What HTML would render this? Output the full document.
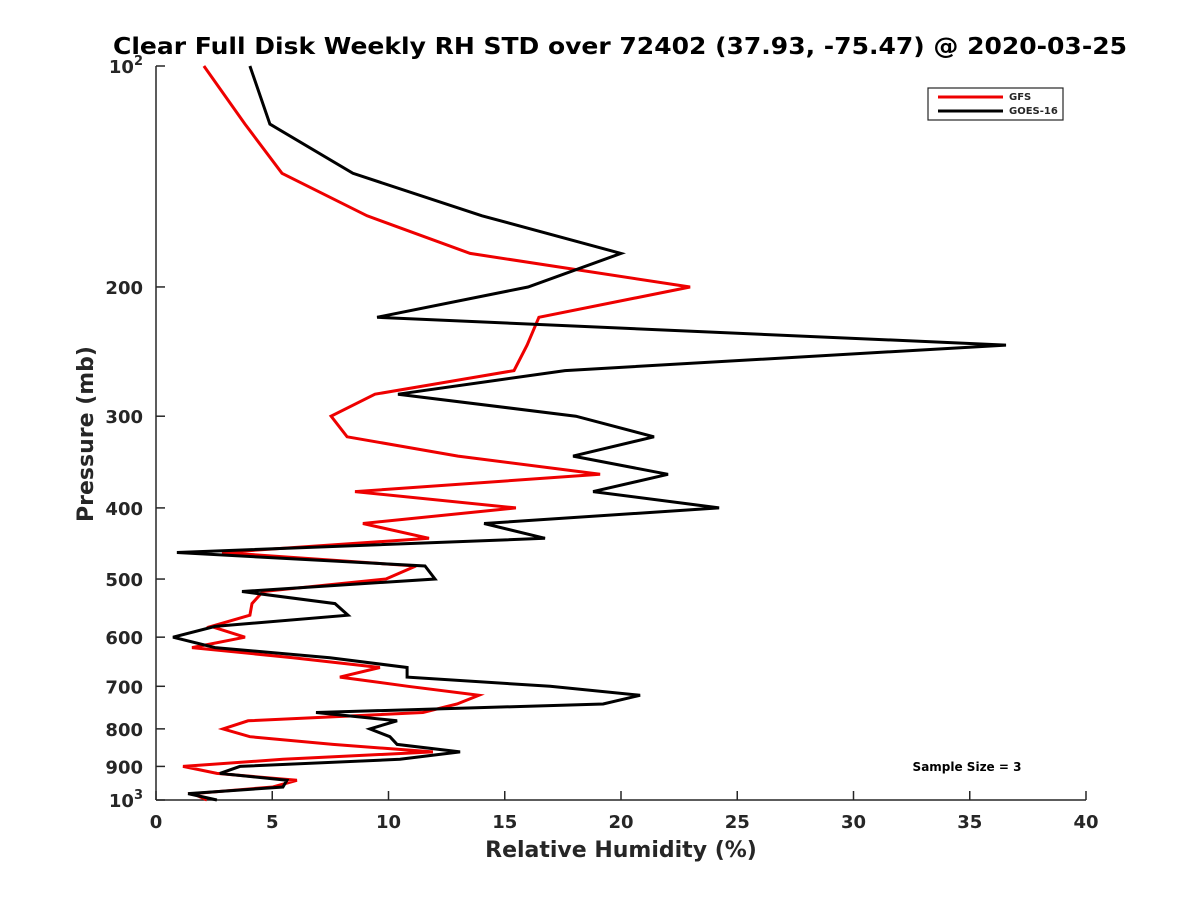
<!DOCTYPE html>
<html><head><meta charset="utf-8"><style>
body{margin:0;background:#fff;}
svg text{font-family:"DejaVu Sans","Liberation Sans",sans-serif;font-weight:bold;fill:#262626;}
</style></head><body>
<svg id="chart" width="1200" height="900" viewBox="0 0 1200 900" xmlns="http://www.w3.org/2000/svg">
<rect width="1200" height="900" fill="#fff"/>
<text x="620" y="54" text-anchor="middle" font-size="23" textLength="1014" lengthAdjust="spacingAndGlyphs" style="fill:#000">Clear Full Disk Weekly RH STD over 72402 (37.93, -75.47) @ 2020-03-25</text>
<g id="axes"></g>
<g id="series"></g>
<text x="621" y="857" text-anchor="middle" font-size="22">Relative Humidity (%)</text>
<text transform="translate(93,434) rotate(-90)" text-anchor="middle" font-size="22">Pressure (mb)</text>
<g>
<rect x="928" y="88" width="135" height="32" fill="#fff" stroke="#262626" stroke-width="1.2"/>
<line x1="938" y1="97" x2="1003" y2="97" stroke="#e00" stroke-width="3"/>
<text x="1009" y="100" font-size="10">GFS</text>
<line x1="938" y1="111" x2="1003" y2="111" stroke="#000" stroke-width="3"/>
<text x="1009" y="114" font-size="10">GOES-16</text>
</g>
<text x="967" y="771" text-anchor="middle" font-size="12" style="fill:#000">Sample Size = 3</text>
</svg>
<script>
const pressures=[100,120,140,160,180,200,220,240,260,280,300,320,340,360,380,400,420,440,460,480,500,520,540,560,580,600,620,640,660,680,700,720,740,760,780,800,820,840,860,880,900,920,940,960,980,1000];
const goesValues=[4.04,4.90,8.47,14.02,20.0,16.0,9.51,36.56,17.59,10.41,18.06,21.42,17.94,22.02,18.80,24.22,14.11,16.73,0.90,11.57,12.0,3.70,7.70,8.26,2.54,0.73,2.54,7.48,10.8,10.8,16.95,20.82,19.23,6.88,10.37,9.20,10.06,10.37,13.08,10.49,3.61,2.75,5.63,5.46,1.38,2.62];
const gfsValues=[2.06,3.83,5.42,9.08,13.51,22.97,16.47,15.96,15.40,9.42,7.53,8.22,12.99,19.10,8.56,15.48,8.90,11.74,2.84,11.18,9.89,4.60,4.13,4.04,2.37,3.83,1.55,5.89,9.63,7.91,10.84,13.89,12.95,11.48,3.96,2.88,4.04,7.61,11.91,5.46,1.16,2.62,6.06,5.03,1.59,2.19];
const xTicks=[0,5,10,15,20,25,30,35,40];
const yTicks=[100,200,300,400,500,600,700,800,900,1000];
const yTickLabels=["10|2","200","300","400","500","600","700","800","900","10|3"];
const NS="http://www.w3.org/2000/svg";
const L=156,R=1086,T=66,B=800;
const xS=v=>L+(v-0)/(40-0)*(R-L);
const yS=p=>T+Math.log10(p/100)/1*(B-T);
function mk(tag,attrs,parent){const e=document.createElementNS(NS,tag);for(const k in attrs)e.setAttribute(k,attrs[k]);parent.appendChild(e);return e;}
const ax=document.getElementById('axes');
let e=mk('line',{x1:L,y1:B,x2:R,y2:B,stroke:'#262626','stroke-width':1.5},ax);


e=mk('line',{x1:L,y1:T,x2:L,y2:B,stroke:'#262626','stroke-width':1.5},ax);


xTicks.forEach(v=>{
  const t=mk('line',{x1:xS(v),y1:B,x2:xS(v),y2:B-9,stroke:'#262626','stroke-width':1.5},ax);
  
  
  const l=mk('text',{x:xS(v),y:B+28,'text-anchor':'middle','font-size':18},ax);
  
  
  l.textContent=v;
});
yTicks.forEach((p,i)=>{
  const t=mk('line',{x1:L,y1:yS(p),x2:L+9,y2:yS(p),stroke:'#262626','stroke-width':1.5},ax);
  
  
  const lab=yTickLabels[i];
  const l=mk('text',{x:L-13,y:yS(p)+7,'text-anchor':'end','font-size':18},ax);
  
  
  if(lab.indexOf('|')>=0){
    const parts=lab.split('|');
    const a=mk('tspan',{},l);a.textContent=parts[0];
    const b=mk('tspan',{dy:-8,'font-size':13},l);b.textContent=parts[1];
  } else l.textContent=lab;
});
const sg=document.getElementById('series');
function line(vals,color,name){
  const pts=vals.map((v,i)=>xS(v).toFixed(1)+','+yS(pressures[i]).toFixed(1)).join(' ');
  const pl=mk('polyline',{points:pts,fill:'none',stroke:color,'stroke-width':3,'stroke-linejoin':'miter'},sg);
  
  
}
line(gfsValues,'#e00','gfs-line');
line(goesValues,'#000','goes16-line');
</script>
</body></html>
